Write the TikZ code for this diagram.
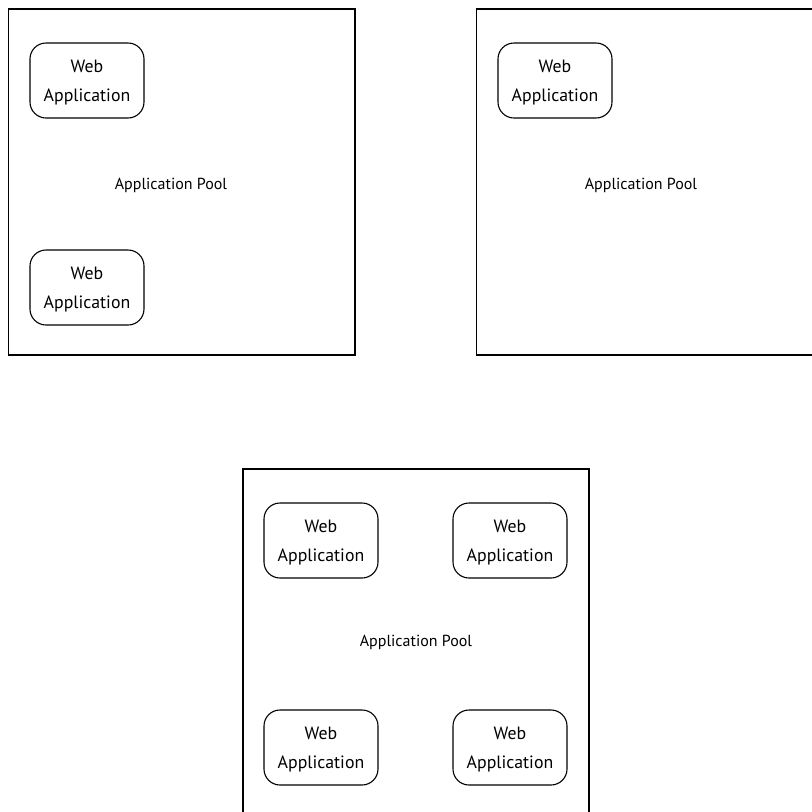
\documentclass[tikz,border=0pt]{standalone}
\usepackage{fontspec}
\setmainfont{PT Sans}
\begin{document}
\begin{tikzpicture}[x=1pt,y=-1pt,
  pool/.style={draw, line width=1.1pt},
  webapp/.style={draw, line width=1.1pt, rounded corners=16pt, minimum width=114pt, minimum height=75pt, inner sep=0pt},
  apptext/.style={font=\fontsize{17.8}{29}\selectfont, align=center},
  poollabel/.style={font=\fontsize{16}{19}\selectfont}]
\useasboundingbox (0,0) rectangle (812,812);
\begin{scope}
\clip (0,0) rectangle (812,812);
% top-left pool
\draw[pool] (8.5,9) rectangle (355,355);
\node[webapp] (a1) at (87,80.5) {};
\node[apptext] (t1) at (87,82.5) {Web\\Application};
\node[webapp] (a2) at (87,287.5) {};
\node[apptext] (t2) at (87,289.5) {Web\\Application};
\node[poollabel] (p1) at (171,185) {Application Pool};
% top-right pool
\draw[pool] (476.5,9) rectangle (823,355);
\node[webapp] (b1) at (555,80.5) {};
\node[apptext] (t3) at (555,82.5) {Web\\Application};
\node[poollabel] (p2) at (641,185) {Application Pool};
% bottom pool
\draw[pool] (243,469) rectangle (589,830);
\node[webapp] (c1) at (321,540.5) {};
\node[apptext] (t4) at (321,542.5) {Web\\Application};
\node[webapp] (c2) at (510,540.5) {};
\node[apptext] (t5) at (510,542.5) {Web\\Application};
\node[webapp] (c3) at (321,747.5) {};
\node[apptext] (t6) at (321,749.5) {Web\\Application};
\node[webapp] (c4) at (510,747.5) {};
\node[apptext] (t7) at (510,749.5) {Web\\Application};
\node[poollabel] (p3) at (416,642) {Application Pool};
\end{scope}
\end{tikzpicture}
\end{document}
